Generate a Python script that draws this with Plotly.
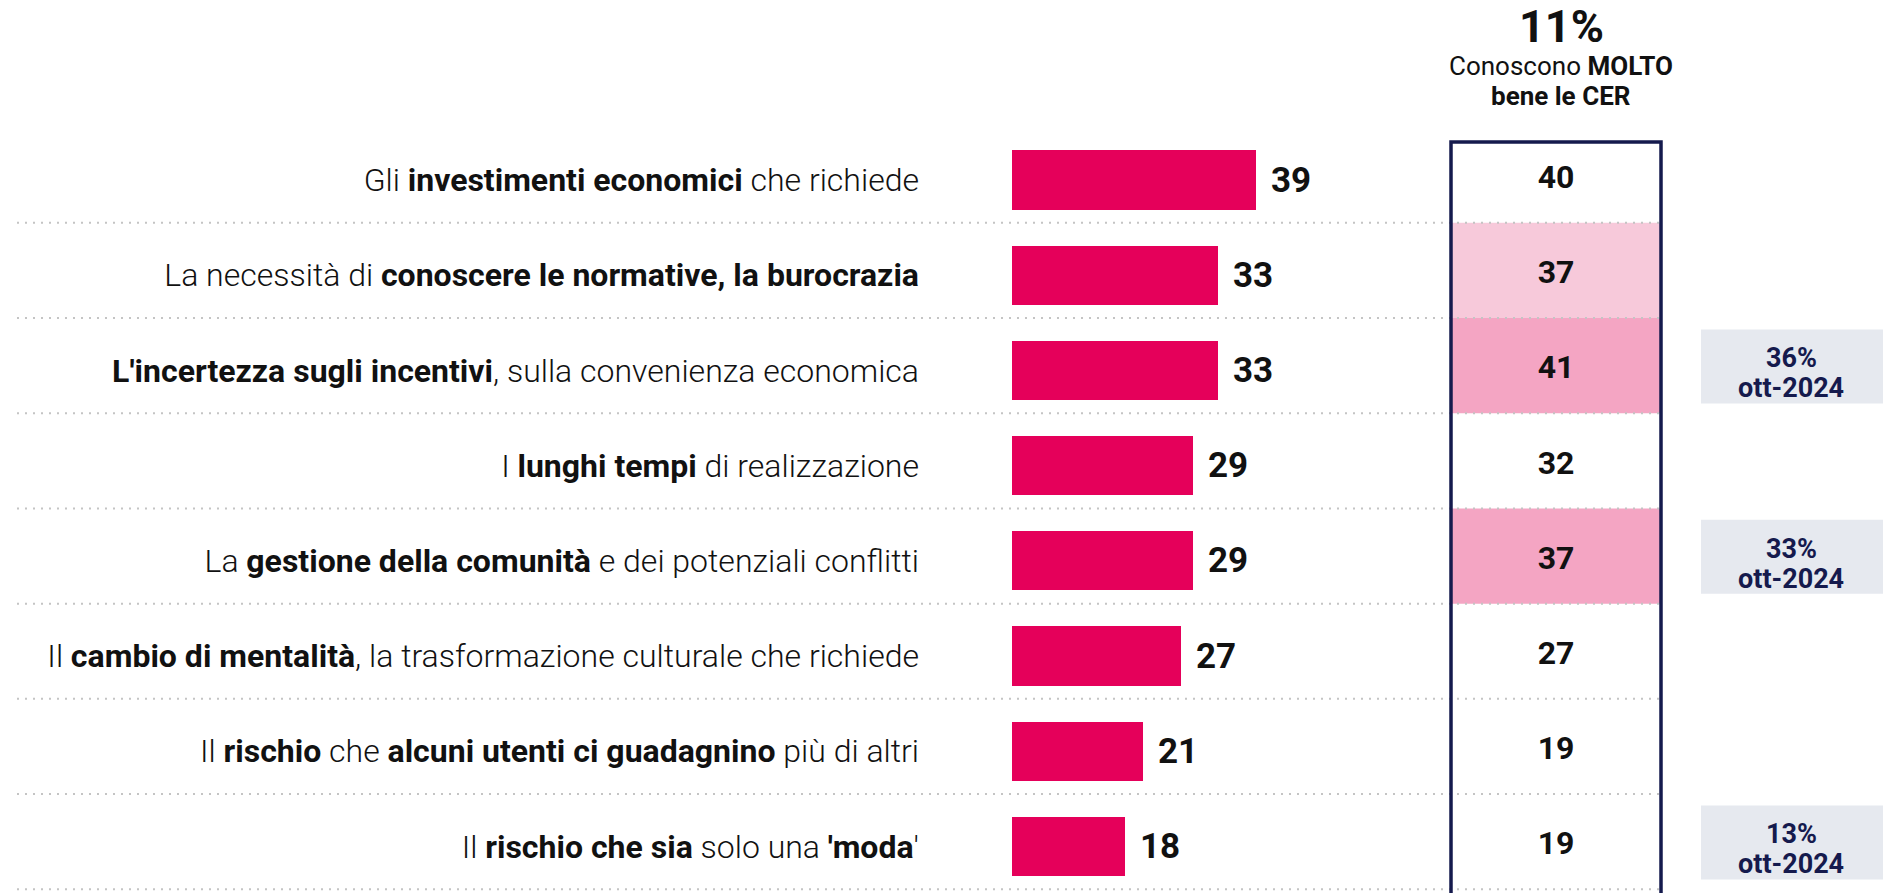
import plotly.graph_objects as go

# ---------------- data ----------------
categories = [
    "Gli <b>investimenti economici</b> che richiede",
    "La necessità di <b>conoscere le normative, la burocrazia</b>",
    "<b>L'incertezza sugli incentivi</b>, sulla convenienza economica",
    "I <b>lunghi tempi</b> di realizzazione",
    "La <b>gestione della comunità</b> e dei potenziali conflitti",
    "Il <b>cambio di mentalità</b>, la trasformazione culturale che richiede",
    "Il <b>rischio</b> che <b>alcuni utenti ci guadagnino</b> più di altri",
    "Il <b>rischio che sia</b> solo una <b>'moda</b>'",
]
total_values = [39, 33, 33, 29, 29, 27, 21, 18]
molto_values = [40, 37, 41, 32, 37, 27, 19, 19]
cell_highlight = ["none", "light", "strong", "none", "strong", "none", "none", "none"]
prev_values = [None, None, "36%", None, "33%", None, None, "13%"]
prev_period = "ott-2024"
header_value = "11%"
header_line1 = "Conoscono <b>MOLTO</b>"
header_line2 = "<b>bene le CER</b>"

# ---------------- style / layout constants ----------------
W, H = 1883, 893
FONT = "Roboto"
BAR_COLOR = "#E5005A"
NAVY = "#151A4D"
LIGHT_PINK = "#F7C9DA"
STRONG_PINK = "#F4A5C3"
NOTE_BG = "#E6E9EF"
DOT_COLOR = "#C4C4C4"

BAR_X0 = 1012          # px where bars start
PX_PER_UNIT = 6.25     # px per percentage point
ROW0_PX = 180          # centre of first row (px from top)
ROW_PITCH = 95.2       # px per row
BOX_X0, BOX_X1 = 1451, 1661
BOX_TOP_PX = 142
NOTE_X0 = 1701
NOTE_TEXT_X = 1791

idx = list(range(len(categories)))
y_top = -ROW0_PX / ROW_PITCH
y_bottom = (H - ROW0_PX) / ROW_PITCH


def py(px):
    """pixel (from top) -> y data coordinate"""
    return (px - ROW0_PX) / ROW_PITCH


def dpx(px):
    """pixel offset -> y data offset"""
    return px / ROW_PITCH


fig = go.Figure()

fig.add_trace(go.Bar(
    x=total_values, y=idx, orientation="h", width=0.62,
    marker=dict(color=BAR_COLOR, line=dict(width=0)),
    hoverinfo="skip", showlegend=False,
))

fig.add_trace(go.Scatter(
    x=[0.5] * len(idx), y=idx, mode="text", xaxis="x2", yaxis="y",
    text=[f"<b>{v}</b>" for v in molto_values],
    textposition="middle center",
    textfont=dict(family=FONT, size=32, color="#111111"),
    hoverinfo="skip", showlegend=False,
))

annotations = []
for i, v in zip(idx, total_values):
    annotations.append(dict(
        x=v, y=i, xref="x", yref="y", text=f"<b>{v}</b>", showarrow=False,
        xanchor="left", yanchor="middle", xshift=13,
        font=dict(family=FONT, size=35, color="#111111"),
    ))

shapes = []
# highlighted cells
for i, h in zip(idx, cell_highlight):
    if h == "none":
        continue
    shapes.append(dict(
        type="rect", xref="paper", yref="y", layer="below",
        x0=BOX_X0 / W, x1=BOX_X1 / W, y0=i - 0.55, y1=i + 0.45,
        fillcolor=LIGHT_PINK if h == "light" else STRONG_PINK, line=dict(width=0),
    ))
# dotted separators
for i in idx:
    shapes.append(dict(
        type="line", xref="paper", yref="y", layer="above",
        x0=17 / W, x1=BOX_X1 / W, y0=i + 0.45, y1=i + 0.45,
        line=dict(color=DOT_COLOR, width=2, dash="2px,6px"),
    ))
# framed column
shapes.append(dict(
    type="rect", xref="paper", yref="y", layer="above",
    x0=BOX_X0 / W, x1=BOX_X1 / W, y0=py(BOX_TOP_PX), y1=y_bottom + 1,
    fillcolor="rgba(0,0,0,0)", line=dict(color=NAVY, width=3.5),
))
# previous-wave notes
for i, pv in zip(idx, prev_values):
    if pv is None:
        continue
    c = i - dpx(4)
    shapes.append(dict(
        type="rect", xref="paper", yref="y", layer="below",
        x0=NOTE_X0 / W, x1=1.0, y0=c - dpx(37), y1=c + dpx(37),
        fillcolor=NOTE_BG, line=dict(width=0),
    ))
    for txt, off in ((pv, -8), (prev_period, 22)):
        annotations.append(dict(
            x=NOTE_TEXT_X / W, y=c + dpx(off), xref="paper", yref="y",
            text=f"<b>{txt}</b>", showarrow=False,
            xanchor="center", yanchor="middle",
            font=dict(family=FONT, size=27, color=NAVY),
        ))

# header
annotations.append(dict(
    x=1561 / W, y=1 - 26 / H, xref="paper", yref="paper", text=f"<b>{header_value}</b>",
    showarrow=False, xanchor="center", yanchor="middle",
    font=dict(family=FONT, size=45, color="#111111"),
))
for txt, ypx in ((header_line1, 66), (header_line2, 96)):
    annotations.append(dict(
        x=1561 / W, y=1 - ypx / H, xref="paper", yref="paper", text=txt,
        showarrow=False, xanchor="center", yanchor="middle",
        font=dict(family=FONT, size=26, color="#111111"),
    ))

fig.update_layout(
    width=W, height=H, margin=dict(l=0, r=0, t=0, b=0),
    paper_bgcolor="white", plot_bgcolor="rgba(0,0,0,0)",
    xaxis=dict(domain=[BAR_X0 / W, 1], range=[0, (W - BAR_X0) / PX_PER_UNIT],
               visible=False, fixedrange=True),
    xaxis2=dict(domain=[BOX_X0 / W, BOX_X1 / W], range=[0, 1], anchor="y",
                visible=False, fixedrange=True),
    yaxis=dict(domain=[0, 1], range=[y_bottom, y_top], anchor="x",
               tickvals=idx, ticktext=categories, ticks="",
               ticklabelstandoff=92, showgrid=False, zeroline=False, showline=False,
               tickfont=dict(family=FONT, size=32, color="#111111", weight=300),
               fixedrange=True),
    shapes=shapes, annotations=annotations,
    bargap=0, showlegend=False,
)

fig.write_html("out.html", config={"displayModeBar": False},
               post_script="document.body.style.margin='0';")
